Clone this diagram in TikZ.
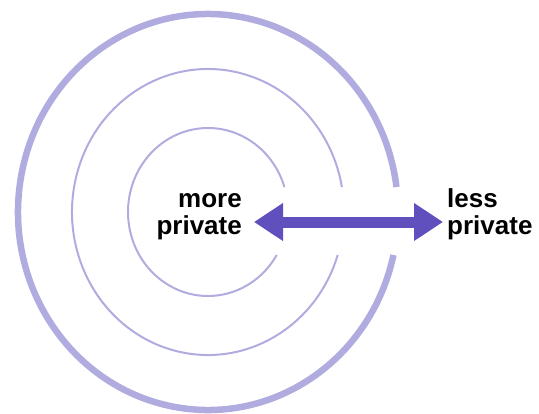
\documentclass[tikz,border=0pt]{standalone}
\usepackage{fontspec}
\setmainfont{Liberation Sans}
\usetikzlibrary{arrows.meta,positioning}
\definecolor{ringblue}{RGB}{176,172,224}
\definecolor{arrowblue}{RGB}{95,80,190}
\tikzset{
  ring/.style={draw=ringblue,line width=#1},
  sidetext/.style={font=\bfseries\fontsize{26}{27}\selectfont,inner sep=0pt},
  bothways/.style={arrowblue,line width=11pt,{Triangle[length=29pt,width=36pt]}-{Triangle[length=29pt,width=36pt]}}
}
\begin{document}
\begin{tikzpicture}[x=1pt,y=-1pt]
\useasboundingbox (0,0) rectangle (539,413);

\foreach \rx/\ry/\lw in {80/84/2pt,136/143/2pt,190/198/6.5pt}
  \draw[ring=\lw] (208,212) ++({asin(43/\ry)}:{\rx} and {\ry})
    arc[start angle={asin(43/\ry)},end angle={360-asin(25/\ry)},x radius=\rx,y radius=\ry];

\node[sidetext,align=right,anchor=east] (more) at (242,216) {\strut more\\\strut private};
\node[sidetext,align=left,anchor=west] (less) at (447,216) {\strut less\\\strut private};

\draw[bothways] ([xshift=12pt,yshift=-6pt]more.east) -- ([xshift=-4pt,yshift=-6pt]less.west);

\end{tikzpicture}
\end{document}
